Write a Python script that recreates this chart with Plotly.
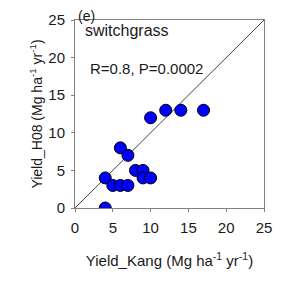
import plotly.graph_objects as go

kang = [4, 4, 5, 6, 7, 6, 7, 8, 9, 9, 10, 10, 12, 14, 17]
h08 = [0, 4, 3, 3, 3, 8, 7, 5, 5, 4, 4, 12, 13, 13, 13]
line_xy = [0, 25]
ticks = [0, 5, 10, 15, 20, 25]

FONT = "Liberation Sans, Arial, sans-serif"

fig = go.Figure()
fig.add_trace(go.Scatter(x=line_xy, y=line_xy, mode="lines",
                         line=dict(color="#404040", width=1), hoverinfo="skip"))
fig.add_trace(go.Scatter(x=kang, y=h08, mode="markers",
                         marker=dict(size=12, color="#0000ff",
                                     line=dict(color="black", width=1))))

axis_common = dict(range=[0, 25], tickvals=ticks, showgrid=False, zeroline=False,
                   showline=True, linecolor="#808080", linewidth=1, mirror=True,
                   ticks="outside", ticklen=3, tickcolor="#808080",
                   ticklabelstandoff=3, automargin=False,
                   tickfont=dict(family=FONT, size=15, color="#1a1a1a"))

fig.update_layout(
    template="none",
    width=287, height=287,
    margin=dict(l=67, r=31, t=12, b=87, autoexpand=False),
    paper_bgcolor="white", plot_bgcolor="white",
    showlegend=False,
    font=dict(family=FONT, size=15, color="#1a1a1a"),
    xaxis=dict(**axis_common,
               title=dict(text="Yield_Kang (Mg ha<sup>-1</sup> yr<sup>-1</sup>)",
                          font=dict(family=FONT, size=15), standoff=20)),
    yaxis=dict(**axis_common,
               title=dict(text="Yield_H08 (Mg ha<sup>-1</sup> yr<sup>-1</sup>)",
                          font=dict(family=FONT, size=14), standoff=2)),
    annotations=[
        dict(text="(e)", x=0.0, y=1.0, xref="paper", yref="paper",
             xanchor="left", yanchor="top", showarrow=False, xshift=2, yshift=13,
             borderpad=0, font=dict(family=FONT, size=14)),
        dict(text="switchgrass", x=1.1, y=23.6, xref="x", yref="y",
             xanchor="left", yanchor="middle", showarrow=False,
             font=dict(family=FONT, size=16)),
        dict(text="R=0.8, P=0.0002", x=1.7, y=18.5, xref="x", yref="y",
             xanchor="left", yanchor="middle", showarrow=False,
             font=dict(family=FONT, size=15)),
    ],
)

fig.write_html("out.html")
